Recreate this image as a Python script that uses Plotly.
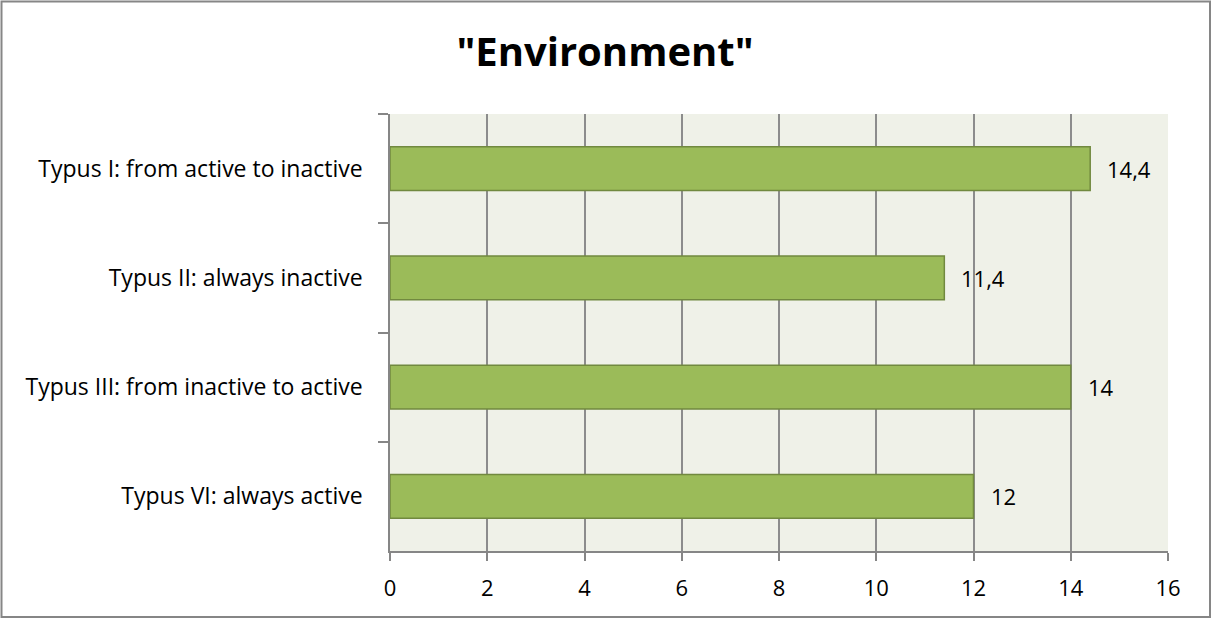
import plotly.graph_objects as go

categories = [
    "Typus I: from active to inactive",
    "Typus II: always inactive",
    "Typus III: from inactive to active",
    "Typus VI: always active",
]
values = [14.4, 11.4, 14.0, 12.0]
x_ticks = [0, 2, 4, 6, 8, 10, 12, 14, 16]

W, H = 1212, 619
ML, MR, MT, MB = 390, 44, 114, 68
FONT = "'Open Sans', sans-serif"
LABEL_SIZE = 23

fig = go.Figure()
fig.add_trace(go.Bar(
    y=categories,
    x=values,
    orientation="h",
    marker=dict(color="#9BBB59", line=dict(color="#71893F", width=1.5)),
    width=0.4,
    hoverinfo="skip",
))

# value labels to the right of each bar
for c, v in zip(categories, values):
    fig.add_annotation(
        x=v, y=c, xref="x", yref="y",
        text=f"{v:g}".replace(".", ","),
        showarrow=False, xanchor="left", xshift=15,
        font=dict(size=LABEL_SIZE - 1, color="#000000", family=FONT),
    )

# outer chart frame
pw, ph = W - ML - MR, H - MT - MB
fig.add_shape(
    type="rect", xref="paper", yref="paper",
    x0=(1.5 - ML) / pw, x1=(W - 2 - ML) / pw,
    y0=-(H - 2 - MT - ph) / ph, y1=1 + (MT - 1.5) / ph,
    line=dict(color="#868686", width=2), fillcolor="rgba(0,0,0,0)",
    layer="below",
)

fig.update_layout(
    width=W, height=H,
    margin=dict(l=ML, r=MR, t=MT, b=MB),
    paper_bgcolor="white",
    plot_bgcolor="#EFF1E8",
    showlegend=False,
    separators=",.",
    title=dict(
        text='<b>"Environment"</b>',
        x=605 / W, xref="container", xanchor="center",
        y=1 - 52 / H, yanchor="middle",
        font=dict(size=40, color="#000000", family=FONT),
    ),
    font=dict(family=FONT, size=LABEL_SIZE, color="#000000"),
    bargap=0.6,
)
fig.update_xaxes(
    range=[0, 16], tickvals=x_ticks,
    showgrid=True, gridcolor="#8C8C8C", gridwidth=1.5,
    showline=True, linecolor="#868686", linewidth=1.5,
    ticks="outside", ticklen=8, tickcolor="#868686", tickwidth=1.5,
    tickfont=dict(size=LABEL_SIZE - 1, family=FONT),
    ticklabelstandoff=9,
    zeroline=False, fixedrange=True,
)
fig.update_yaxes(
    categoryorder="array", categoryarray=categories, autorange="reversed",
    showline=True, linecolor="#868686", linewidth=1.5,
    ticks="outside", ticklen=10, tickcolor="#868686", tickwidth=1.5,
    tickson="boundaries", showgrid=False,
    tickfont=dict(size=LABEL_SIZE, family=FONT),
    ticklabelstandoff=21,
    fixedrange=True,
)

fig.write_html("out.html")
